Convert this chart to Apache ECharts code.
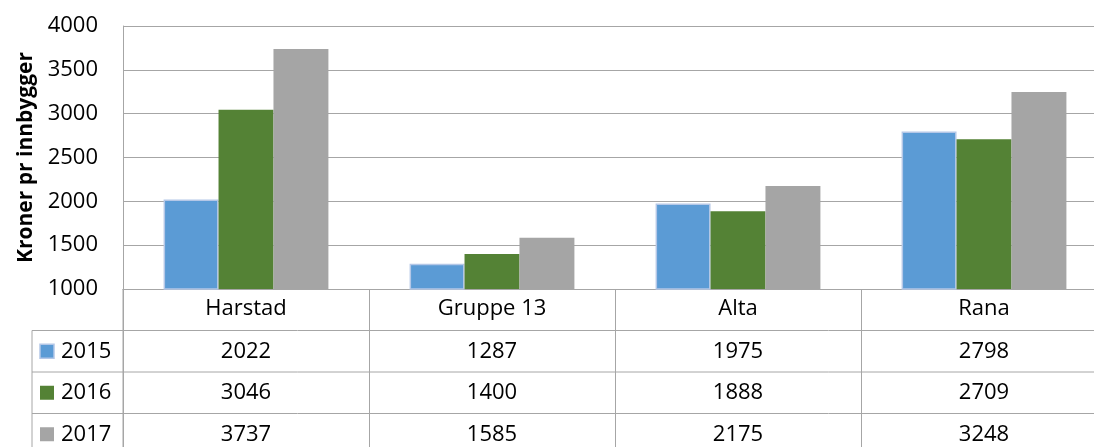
<!DOCTYPE html>
<html>
<head>
<meta charset="utf-8">
<script src="https://cdn.jsdelivr.net/npm/echarts@6/dist/echarts.min.js"></script>
<style>
  html, body { margin: 0; padding: 0; background: #fff; }
  #chart { width: 1094px; height: 447px; }
</style>
</head>
<body>
<div id="chart"></div>
<script>
'use strict'

// data
const categories = ['Harstad', 'Gruppe 13', 'Alta', 'Rana']
const years = ['2015', '2016', '2017']
const v2015 = [2022, 1287, 1975, 2798]
const v2016 = [3046, 1400, 1888, 2709]
const v2017 = [3737, 1585, 2175, 3248]
const yTicks = [1000, 1500, 2000, 2500, 3000, 3500, 4000]

const colors = ['#5B9BD5', '#548235', '#A5A5A5']
const borders = ['#B4C7E7', '#548235', '#A5A5A5']
const lineColor = '#A6A6A6'
const font = '"Open Sans", "Noto Sans", sans-serif'
const fontSize = 22

const allSeries = [v2015, v2016, v2017]

const chart = echarts.init(document.getElementById('chart'), null, { renderer: 'canvas' })

// table geometry
const gridLeft = 123
const gridTop = 26
const gridBottom = 158
const plotWidth = 984 // runs a little past the right edge, as in the original
const rowH = 41.5
const legendLeft = 32

const option = {
  animation: false,
  textStyle: { fontFamily: font },
  grid: { left: gridLeft, width: plotWidth, top: gridTop, bottom: gridBottom, containLabel: false, outerBoundsMode: 'none' },
  xAxis: {
    type: 'category',
    data: categories,
    axisLine: { show: true, lineStyle: { color: lineColor, width: 1 } },
    axisTick: { show: true, length: gridBottom + 10, lineStyle: { color: lineColor, width: 1 } },
    axisLabel: { color: '#000', fontSize: fontSize, fontFamily: font, margin: 9, lineHeight: 22 },
    splitLine: { show: false }
  },
  yAxis: {
    type: 'value',
    min: yTicks[0],
    max: yTicks[yTicks.length - 1],
    interval: 500,
    name: 'Kroner pr innbygger',
    nameLocation: 'middle',
    nameGap: 86,
    nameTextStyle: { color: '#000', fontSize: 21, fontWeight: 'bold', fontFamily: font },
    axisLine: { show: true, lineStyle: { color: lineColor, width: 1 } },
    axisTick: { show: false },
    axisLabel: { color: '#000', fontSize: fontSize, fontFamily: font, margin: 25, formatter: v => String(v) },
    splitLine: { show: true, lineStyle: { color: lineColor, width: 1 } }
  },
  series: years.map((y, i) => ({
    name: y,
    type: 'bar',
    data: allSeries[i],
    barGap: '0%',
    barCategoryGap: '33%',
    itemStyle: { color: colors[i], borderColor: borders[i], borderWidth: i === 0 ? 1.5 : 0 }
  }))
}

chart.setOption(option)

// data table under the axis
function buildTable() {
  const axisY = chart.convertToPixel({ yAxisIndex: 0 }, yTicks[0])
  const right = chart.getWidth()
  const bottom = chart.getHeight()
  const els = []
  const catRowBottom = axisY + rowH
  els.push({ type: 'line', shape: { x1: gridLeft, y1: axisY, x2: gridLeft, y2: bottom }, style: { stroke: lineColor, lineWidth: 1 }, silent: true })
  els.push({ type: 'line', shape: { x1: legendLeft, y1: catRowBottom, x2: legendLeft, y2: bottom }, style: { stroke: lineColor, lineWidth: 1 }, silent: true })
  years.forEach((y, i) => {
    const top = catRowBottom + i * rowH
    const cy = top + rowH / 2
    els.push({ type: 'line', shape: { x1: legendLeft, y1: top, x2: right, y2: top }, style: { stroke: lineColor, lineWidth: 1 }, silent: true })
    els.push({
      type: 'rect',
      shape: { x: legendLeft + 8, y: cy - 7, width: 14, height: 14 },
      style: { fill: colors[i], stroke: i === 0 ? borders[0] : null, lineWidth: i === 0 ? 1.5 : 0 },
      silent: true
    })
    els.push({
      type: 'text',
      x: legendLeft + 29,
      y: cy,
      style: { text: y, fill: '#000', font: fontSize + 'px ' + font, textVerticalAlign: 'middle', textAlign: 'left' },
      silent: true
    })
    categories.forEach((c, j) => {
      const cx = chart.convertToPixel({ xAxisIndex: 0 }, c)
      els.push({
        type: 'text',
        x: cx,
        y: cy,
        style: { text: String(allSeries[i][j]), fill: '#000', font: fontSize + 'px ' + font, textAlign: 'center', textVerticalAlign: 'middle' },
        silent: true
      })
    })
  })
  chart.setOption({ graphic: els })
}

buildTable()
</script>
</body>
</html>
